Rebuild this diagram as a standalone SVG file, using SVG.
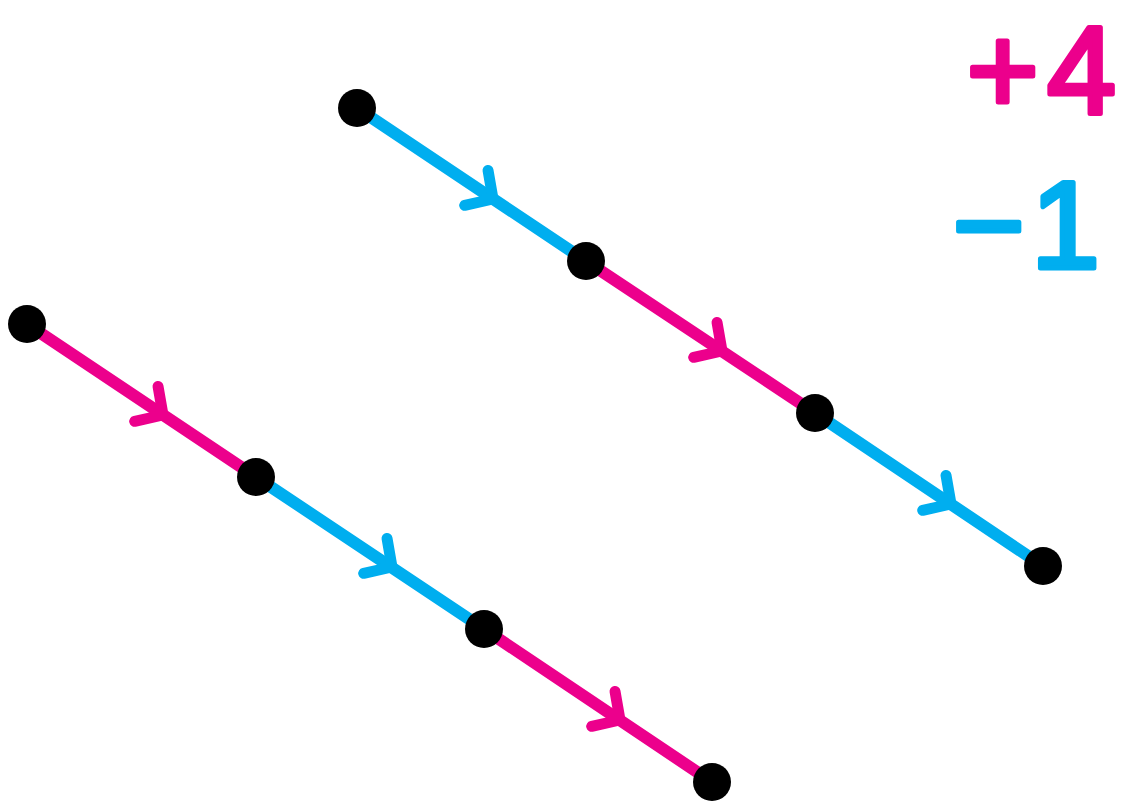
<svg xmlns="http://www.w3.org/2000/svg" width="1131" height="806" viewBox="0 0 1131 806">
  <style>
    .pink { stroke: #EC008C; }
    .blue { stroke: #00AEEF; }
    .seg { stroke-width: 12; stroke-linecap: round; fill: none; }
    .chev { stroke-width: 11; stroke-linecap: round; stroke-linejoin: round; fill: none; }
    .node { fill: #000000; }
    .lbl { font-family: "Liberation Sans", Arial, sans-serif; font-size: 124px; stroke-width: 5; stroke-linejoin: round; }
  </style>
  <defs>
    <path id="chevron" d="M -20 -21 L 0 0 L -20 21"/>
  </defs>
  <rect width="1131" height="806" fill="#ffffff"/>
  <g id="connectors">
    <line class="seg blue" x1="357" y1="108" x2="586" y2="261"/>
    <line class="seg pink" x1="586" y1="261" x2="815" y2="413"/>
    <line class="seg blue" x1="815" y1="413" x2="1043" y2="566"/>
    <line class="seg pink" x1="27" y1="324" x2="256" y2="477"/>
    <line class="seg blue" x1="256" y1="477" x2="484" y2="629"/>
    <line class="seg pink" x1="484" y1="629" x2="712" y2="782"/>
    <use href="#chevron" class="chev blue" transform="translate(493 199) rotate(33.75)"/>
    <use href="#chevron" class="chev pink" transform="translate(722 351) rotate(33.75)"/>
    <use href="#chevron" class="chev blue" transform="translate(951 504) rotate(33.75)"/>
    <use href="#chevron" class="chev pink" transform="translate(163 415) rotate(33.75)"/>
    <use href="#chevron" class="chev blue" transform="translate(392 567) rotate(33.75)"/>
    <use href="#chevron" class="chev pink" transform="translate(620 720) rotate(33.75)"/>
  </g>
  <g id="n1"><circle class="node" cx="357" cy="108" r="19"/></g>
  <g id="n2"><circle class="node" cx="586" cy="261" r="19"/></g>
  <g id="n3"><circle class="node" cx="815" cy="413" r="19"/></g>
  <g id="n4"><circle class="node" cx="1043" cy="566" r="19"/></g>
  <g id="n5"><circle class="node" cx="27" cy="324" r="19"/></g>
  <g id="n6"><circle class="node" cx="256" cy="477" r="19"/></g>
  <g id="n7"><circle class="node" cx="484" cy="629" r="19"/></g>
  <g id="n8"><circle class="node" cx="712" cy="782" r="19"/></g>
  <g id="labels">
    <text class="lbl" x="1124" y="113" text-anchor="end" fill="#EC008C" stroke="#EC008C" letter-spacing="8">+4</text>
    <text class="lbl" x="1106" y="268" text-anchor="end" fill="#00AEEF" stroke="#00AEEF" letter-spacing="6">−1</text>
  </g>
</svg>
